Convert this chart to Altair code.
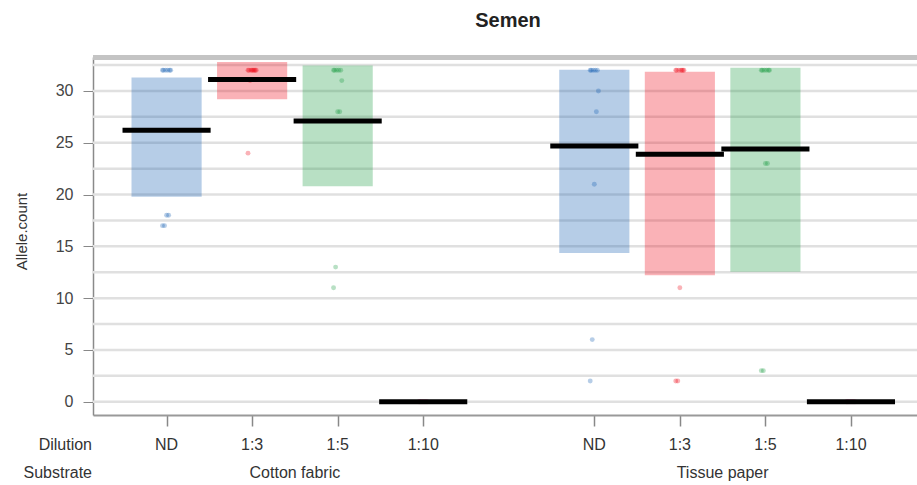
import altair as alt
import pandas as pd

# ---- data ----
substrates = ["Cotton fabric", "Tissue paper"]
dilutions = ["ND", "1:3", "1:5", "1:10"]
palette = ["#0C5BB0", "#EE0011", "#15983D", "#EC579A"]

# allele counts of the individual samples, per substrate / dilution
points_cotton = {
    "ND":   [32, 32, 32, 32, 32, 32, 18, 18, 17, 17],
    "1:3":  [32, 32, 32, 32, 32, 32, 32, 32, 31, 24],
    "1:5":  [32, 32, 32, 32, 32, 31, 28, 28, 13, 11],
    "1:10": [0, 0, 0, 0, 0, 0, 0, 0, 0, 0],
}
points_tissue = {
    "ND":   [32, 32, 32, 32, 32, 30, 28, 21, 6, 2],
    "1:3":  [32, 32, 32, 32, 32, 32, 32, 11, 2, 2],
    "1:5":  [32, 32, 32, 32, 32, 32, 23, 23, 3, 3],
    "1:10": [0, 0, 0, 0, 0, 0, 0, 0, 0, 0],
}
# group means and inference band limits (cotton then tissue, in dilution order)
means = [26.2, 31.1, 27.1, 0.0, 24.7, 23.9, 24.4, 0.0]
band_lo = [19.8, 29.2, 20.8, 0.0, 14.35, 12.2, 12.55, 0.0]
band_hi = [31.3, 32.8, 32.45, 0.0, 32.05, 31.85, 32.25, 0.0]

y_ticks = [0, 5, 10, 15, 20, 25, 30]
grid_vals = [0, 2.5, 5, 7.5, 10, 12.5, 15, 17.5, 20, 22.5, 25, 27.5, 30, 32.5]

# ---- build tables ----
groups = []
pts = []
k = 0
for si, sub in enumerate(substrates):
    src = points_cotton if si == 0 else points_tissue
    for di, dil in enumerate(dilutions):
        slot = si * (len(dilutions) + 1) + di + 1
        groups.append(dict(substrate=sub, dilution=dil, slot=slot,
                           mean=means[k], lo=band_lo[k], hi=band_hi[k]))
        for i, v in enumerate(src[dil]):
            jit = (((i * 7) % 9) - 4) * 0.012
            pts.append(dict(substrate=sub, dilution=dil, slot=slot,
                            xj=slot + jit, value=v))
        k += 1
gdf = pd.DataFrame(groups)
pdf = pd.DataFrame(pts)
slots = list(gdf["slot"])

lab_df = pd.DataFrame(dict(slot=slots, label=list(gdf["dilution"])))
sub_df = pd.DataFrame(dict(
    center=[(gdf[gdf.substrate == s]["slot"].min() + gdf[gdf.substrate == s]["slot"].max()) / 2 for s in substrates],
    label=substrates))
grid_df = pd.DataFrame(dict(g=grid_vals))

W, H = 824, 358
xs = alt.Scale(domain=[0.14, 9.772], nice=False, zero=False)
ys = alt.Scale(domain=[-1.28, 33.28], nice=False, zero=False)
cscale = alt.Scale(domain=dilutions, range=palette)
FONT = "Liberation Sans"

grid = alt.Chart(grid_df).mark_rule(color="#e0e0e0", strokeWidth=2.5).encode(
    y=alt.Y("g:Q", scale=ys, axis=alt.Axis(
        values=y_ticks, title="Allele.count", tickSize=10, tickColor="#888",
        labelPadding=10, labelFontSize=16, labelColor="#444", labelFont=FONT,
        domainColor="#8a8a8a", domainWidth=1.5, grid=False,
        titleFont=FONT, titleFontSize=15, titleFontWeight="normal", titleColor="#333",
        titleX=-72, titleY=174, titleBaseline="middle")),
    x=alt.value(0), x2=alt.value(W))

bars = alt.Chart(gdf).transform_calculate(
    x0="datum.slot - 0.41", x1="datum.slot + 0.41"
).mark_rect(opacity=0.3).encode(
    x=alt.X("x0:Q", scale=xs, axis=alt.Axis(
        values=slots, labels=False, title=None, tickSize=11, tickColor="#888",
        tickWidth=1.5, domainColor="#999", domainWidth=2, grid=False)),
    x2="x1:Q",
    y=alt.Y("lo:Q", scale=ys),
    y2="hi:Q",
    color=alt.Color("dilution:N", scale=cscale, legend=None))

points = alt.Chart(pdf).mark_circle(size=24, opacity=0.3).encode(
    x=alt.X("xj:Q", scale=xs),
    y=alt.Y("value:Q", scale=ys),
    color=alt.Color("dilution:N", scale=cscale, legend=None))

avg = alt.Chart(gdf).transform_calculate(
    x0="datum.slot - 0.515", x1="datum.slot + 0.515"
).mark_rule(color="black", strokeWidth=5).encode(
    x=alt.X("x0:Q", scale=xs), x2="x1:Q", y=alt.Y("mean:Q", scale=ys))

topline = alt.Chart(grid_df).mark_rule(color="#c4c4c4", strokeWidth=3.5).encode(
    x=alt.value(0), x2=alt.value(W), y=alt.value(0.5))

dil_text = alt.Chart(lab_df).mark_text(font=FONT, fontSize=16, color="#333",
                                      baseline="alphabetic").encode(
    x=alt.X("slot:Q", scale=xs), y=alt.value(393), text="label:N")

sub_text = alt.Chart(sub_df).mark_text(font=FONT, fontSize=16, color="#333",
                                      baseline="alphabetic").encode(
    x=alt.X("center:Q", scale=xs), y=alt.value(421), text="label:N")

row_df = pd.DataFrame(dict(label=["Dilution", "Substrate"], row=[0, 1]))
row_text = alt.Chart(row_df).transform_calculate(
    yy="datum.row == 0 ? 393 : 421"
).mark_text(font=FONT, fontSize=16, color="#333", align="right",
            baseline="alphabetic").encode(
    x=alt.value(-1), y=alt.Y("yy:Q", scale=None), text="label:N")

chart = alt.layer(grid, bars, points, avg, topline, dil_text, sub_text, row_text).properties(
    width=W, height=H,
    title=alt.TitleParams("Semen", font=FONT, fontSize=20, fontWeight="bold",
                          color="#222", offset=25, dx=3),
    autosize=alt.AutoSizeParams(type="none"),
    padding={"left": 93, "top": 57, "right": 0, "bottom": 70},
).configure_view(stroke=None)

chart.save("out.html", embed_options={"renderer": "svg", "actions": False})
